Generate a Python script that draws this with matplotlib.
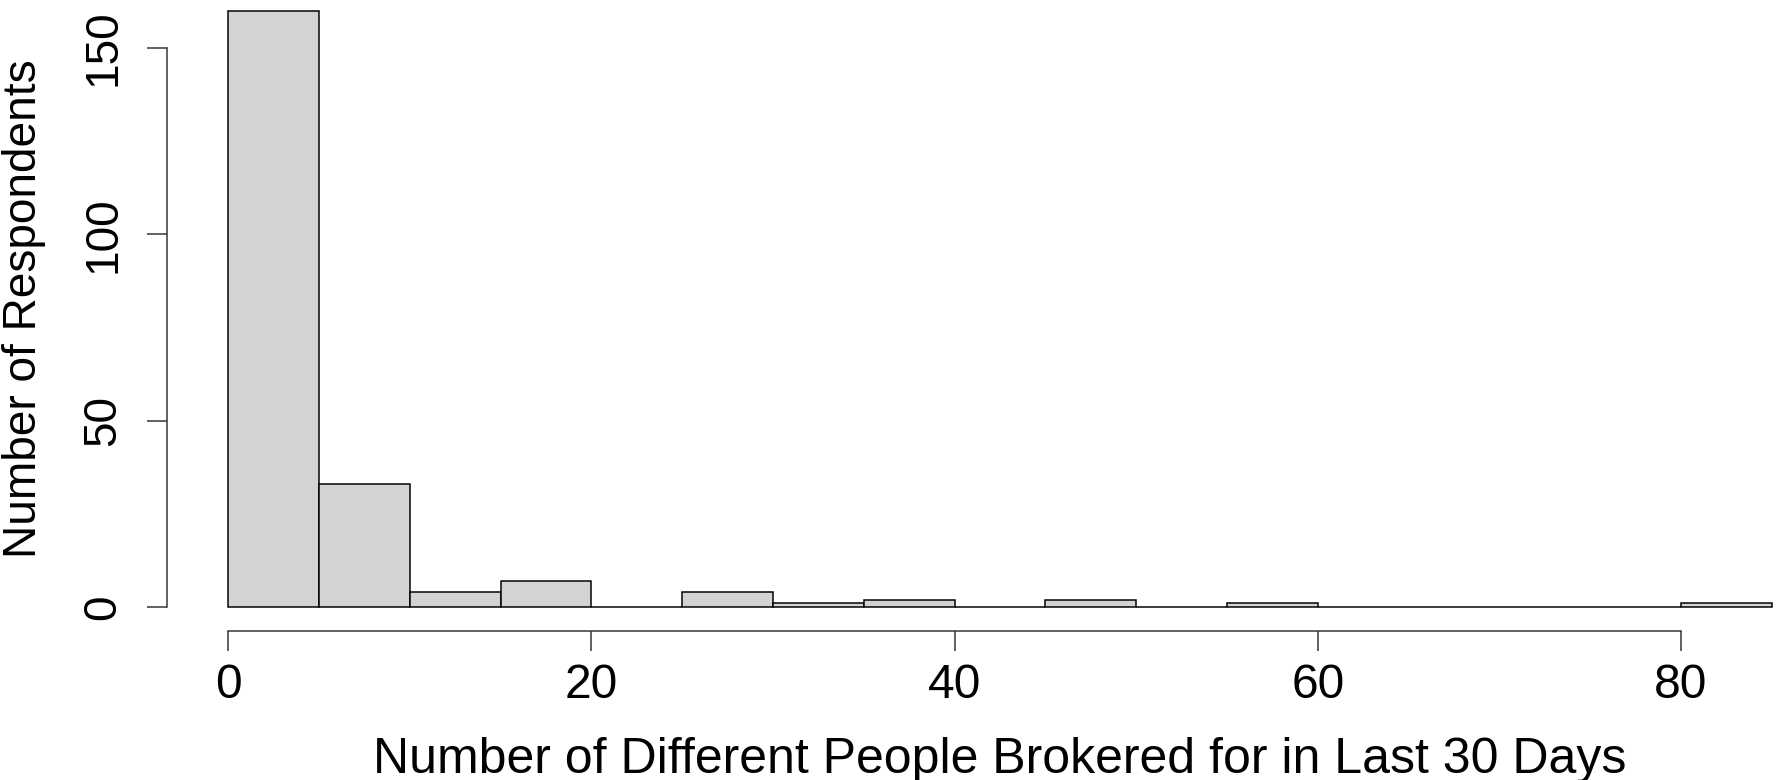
import numpy as np
import matplotlib
matplotlib.use("Agg")
import matplotlib.pyplot as plt

# histogram bins (width 5) and counts
BIN_EDGES = [0, 5, 10, 15, 20, 25, 30, 35, 40, 45, 50, 55, 60, 65, 70, 75, 80, 85]
COUNTS = [160, 33, 4, 7, 0, 4, 1, 2, 0, 2, 0, 1, 0, 0, 0, 0, 1]
X_TICKS = [0, 20, 40, 60, 80]
Y_TICKS = [0, 50, 100, 150]

XLABEL = "Number of Different People Brokered for in Last 30 Days"
YLABEL = "Number of Respondents"

plt.rcParams["font.family"] = ["Liberation Sans", "DejaVu Sans"]

DPI = 72
fig = plt.figure(figsize=(1776 / DPI, 780 / DPI), dpi=DPI)
ax = fig.add_axes([0.0938, 0.1912, 0.9386, 0.8258])

edges = np.array(BIN_EDGES)
ax.bar(edges[:-1], COUNTS, width=np.diff(edges), align="edge",
       color="#D3D3D3", edgecolor="black", linewidth=1.5)

# R-style 4% padding around the data range
ax.set_xlim(-3.4, 88.4)
ax.set_ylim(-6.4, 166.4)

for s in ["top", "right"]:
    ax.spines[s].set_visible(False)
ax.spines["bottom"].set_bounds(X_TICKS[0], X_TICKS[-1])
ax.spines["left"].set_bounds(Y_TICKS[0], Y_TICKS[-1])
for s in ["bottom", "left"]:
    ax.spines[s].set_linewidth(1.5)
    ax.spines[s].set_color("#333333")

ax.set_xticks(X_TICKS)
ax.set_yticks(Y_TICKS)
ax.tick_params(axis="both", length=20, width=1.5, color="#333333")
ax.tick_params(axis="x", labelsize=48, pad=12)
ax.tick_params(axis="y", labelsize=46, pad=21)
for lab in ax.get_yticklabels():
    lab.set_rotation(90)
    lab.set_va("center")

ax.set_xlabel(XLABEL, fontsize=50, va="baseline")
ax.xaxis.set_label_coords(0.5, -0.2206)
ax.set_ylabel(YLABEL, fontsize=46, va="baseline")
ax.yaxis.set_label_coords(-0.0783, 0.5)

fig.savefig("out.png", dpi=DPI)
